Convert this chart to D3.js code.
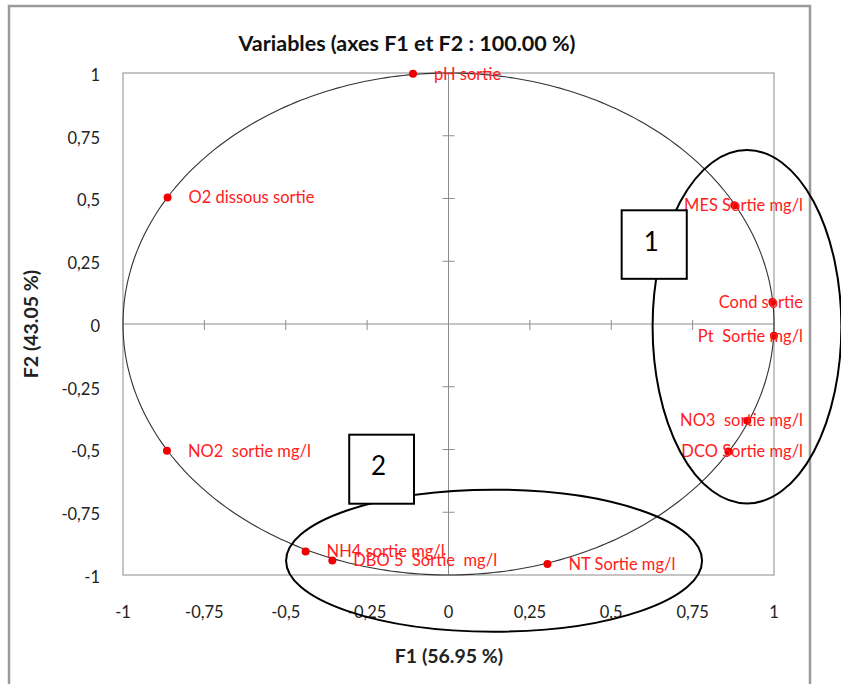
<!DOCTYPE html>
<html><head><meta charset="utf-8">
<script src="https://cdn.jsdelivr.net/npm/d3@7"></script>
<style>
html,body{margin:0;padding:0;background:#fff;}
svg text{font-family:Lato,"Open Sans",sans-serif;white-space:pre;}
</style></head>
<body>
<svg id="c" width="841" height="684"></svg>
<script>
// ---- data ----
const varNames = ["pH sortie","O2 dissous sortie","MES Sortie mg/l","Cond sortie","Pt  Sortie mg/l","NO3  sortie mg/l","DCO Sortie mg/l","NO2  sortie mg/l","NH4 sortie mg/l","DBO 5  Sortie  mg/l","NT Sortie mg/l"];
const f1Values = [-0.109,-0.863,0.878,0.995,1.000,0.918,0.860,-0.865,-0.439,-0.357,0.304];
const f2Values = [0.997,0.504,0.473,0.088,-0.047,-0.385,-0.508,-0.505,-0.906,-0.942,-0.956];
const tickValues = [-1,-0.75,-0.5,-0.25,0,0.25,0.5,0.75,1];
const titleText = "Variables (axes F1 et F2 : 100.00 %)";
const xTitle = "F1 (56.95 %)";
const yTitle = "F2 (43.05 %)";
// annotation groups (data coords): ellipses and numbered boxes
const groupLabels = ["1","2"];
const groupEllipseCx = [0.917,0.140];
const groupEllipseCy = [-0.011,-0.943];
const groupEllipseRx = [0.290,0.639];
const groupEllipseRy = [0.704,0.283];
const groupBoxX0 = [0.532,-0.305];
const groupBoxX1 = [0.732,-0.106];
const groupBoxY0 = [0.453,-0.441];
const groupBoxY1 = [0.180,-0.716];

// ---- layout ----
const svg = d3.select("#c");
const x = d3.scaleLinear().domain([-1,1]).range([123,774]);
const y = d3.scaleLinear().domain([-1,1]).range([575,73]);
const fmt = v => String(v).replace(".",",");

// outer chart frame
svg.append("rect").attr("x",9).attr("y",6).attr("width",801).attr("height",700)
  .attr("fill","#fff").attr("stroke","#9a9a9a").attr("stroke-width",2.5);

// title
svg.append("text").attr("x",407).attr("y",43).attr("dy","0.35em").attr("text-anchor","middle")
  .attr("font-size",21.5).attr("font-weight","bold").attr("fill","#111").text(titleText);

// plot frame
svg.append("rect").attr("x",x(-1)).attr("y",y(1)).attr("width",x(1)-x(-1)).attr("height",y(-1)-y(1))
  .attr("fill","none").attr("stroke","#8c8c8c").attr("stroke-width",1);

// center axes
svg.append("line").attr("x1",x(-1)).attr("x2",x(1)).attr("y1",y(0)).attr("y2",y(0)).attr("stroke","#8c8c8c");
svg.append("line").attr("x1",x(0)).attr("x2",x(0)).attr("y1",y(1)).attr("y2",y(-1)).attr("stroke","#8c8c8c");

// crossing tick marks on center axes
const inner = tickValues.filter(v => Math.abs(v) < 1 && v !== 0);
svg.selectAll(".xt").data(inner).enter().append("line")
  .attr("x1",d=>x(d)).attr("x2",d=>x(d)).attr("y1",y(0)-4).attr("y2",y(0)+6).attr("stroke","#8c8c8c");
svg.selectAll(".yt").data(inner).enter().append("line")
  .attr("y1",d=>y(d)).attr("y2",d=>y(d)).attr("x1",x(0)-6).attr("x2",x(0)+6).attr("stroke","#8c8c8c");

// tick labels
svg.selectAll(".xl").data(tickValues).enter().append("text")
  .attr("x",d=>x(d)).attr("y",y(-1)+37).attr("dy","0.35em").attr("text-anchor","middle")
  .attr("font-size",16.5).attr("fill","#222").text(fmt);
svg.selectAll(".yl").data(tickValues).enter().append("text")
  .attr("x",100).attr("y",d=>y(d)+2).attr("dy","0.35em").attr("text-anchor","end")
  .attr("font-size",16.5).attr("fill","#222").text(fmt);

// axis titles
svg.append("text").attr("x",449).attr("y",656).attr("dy","0.35em").attr("text-anchor","middle")
  .attr("font-size",19.5).attr("font-weight","bold").attr("fill","#222").text(xTitle);
svg.append("text").attr("transform",`translate(31,${y(0)}) rotate(-90)`).attr("dy","0.35em")
  .attr("text-anchor","middle").attr("font-size",19.5).attr("font-weight","bold").attr("fill","#222").text(yTitle);

// correlation circle
const ang = d3.range(0,361,1).map(a=>a*Math.PI/180);
svg.append("path").attr("d", d3.line().x(a=>x(Math.cos(a))).y(a=>y(Math.sin(a)))(ang))
  .attr("fill","none").attr("stroke","#333").attr("stroke-width",1.1);

// points
const pts = varNames.map((n,i)=>({name:n,f1:f1Values[i],f2:f2Values[i]}));
svg.selectAll(".pt").data(pts).enter().append("circle")
  .attr("cx",d=>x(d.f1)).attr("cy",d=>y(d.f2)).attr("r",4).attr("fill","#ee0000");

// labels: placed right of point, pulled back left if they would pass the right limit
const labRight = 803;
svg.selectAll(".lab").data(pts).enter().append("text")
  .attr("font-size",16.5).attr("fill","#ff2020").attr("dy","0.35em")
  .attr("y",d=>y(d.f2))
  .text(d=>d.name)
  .each(function(d){
    const w = this.getComputedTextLength();
    const x0 = Math.min(x(d.f1)+21, labRight - w);
    d3.select(this).attr("x",x0);
  });

// annotation ellipses
groupLabels.forEach((g,i)=>{
  svg.append("ellipse").attr("cx",x(groupEllipseCx[i])).attr("cy",y(groupEllipseCy[i]))
    .attr("rx",x(groupEllipseRx[i])-x(0)).attr("ry",y(0)-y(groupEllipseRy[i]))
    .attr("fill","none").attr("stroke","#000").attr("stroke-width",2);
});
// numbered boxes
groupLabels.forEach((g,i)=>{
  const bx0=x(groupBoxX0[i]), bx1=x(groupBoxX1[i]), by0=y(groupBoxY0[i]), by1=y(groupBoxY1[i]);
  svg.append("rect").attr("x",bx0).attr("y",by0).attr("width",bx1-bx0).attr("height",by1-by0)
    .attr("fill","#fff").attr("stroke","#000").attr("stroke-width",2);
  svg.append("text").attr("x",(bx0+bx1)/2-3).attr("y",(by0+by1)/2-3).attr("dy","0.35em")
    .attr("text-anchor","middle").attr("font-size",26).attr("fill","#000").text(g);
});
</script>
</body></html>
